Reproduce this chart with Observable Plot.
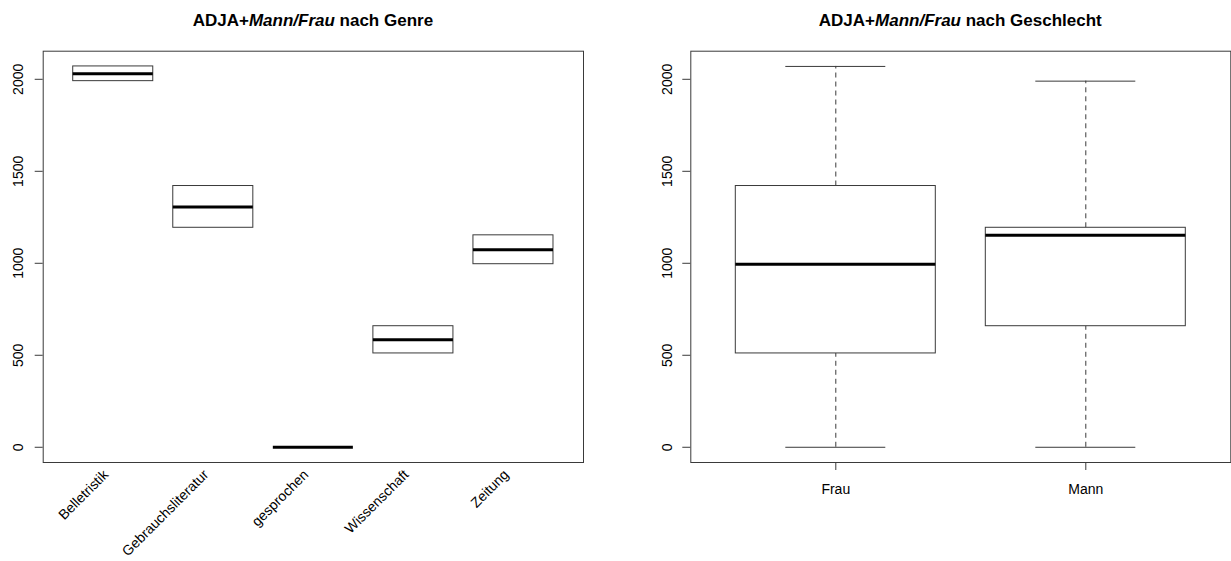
<!DOCTYPE html>
<html>
<head>
<meta charset="utf-8">
<script src="https://cdn.jsdelivr.net/npm/d3@7"></script>
<script src="https://cdn.jsdelivr.net/npm/@observablehq/plot@0.6"></script>
<style>
  html, body { margin: 0; padding: 0; background: #fff; }
  #wrap { position: relative; width: 1231px; height: 561px; overflow: hidden; font-family: "Liberation Sans", Arial, Helvetica, sans-serif; }
  .panel { position: absolute; top: 0; }
  .title { position: absolute; top: 12px; width: 600px; text-align: center; font-size: 17px; line-height: 17px; font-weight: bold; color: #000; white-space: nowrap; }
  svg { overflow: visible; }
</style>
</head>
<body>
<div id="wrap"></div>
<script>
// ---- data ----
const genres = ["Belletristik", "Gebrauchsliteratur", "gesprochen", "Wissenschaft", "Zeitung"];
const sexes = ["Frau", "Mann"];
const frauValues = [2070, 1420, 0, 510, 995];   // per genre
const mannValues = [1990, 1193, 0, 658, 1152];  // per genre
const yTicks = [0, 500, 1000, 1500, 2000];
const titleGenre = "ADJA+<i>Mann/Frau</i> nach Genre";
const titleSex = "ADJA+<i>Mann/Frau</i> nach Geschlecht";

// ---- R-style boxplot statistics (fivenum + 1.5 IQR whiskers) ----
function boxStats(vals, pos, label) {
  const x = vals.slice().sort(d3.ascending);
  const n = x.length;
  const n4 = Math.floor((n + 3) / 2) / 2;
  const d = [1, n4, (n + 1) / 2, n + 1 - n4, n];
  const f = d.map(p => 0.5 * (x[Math.floor(p) - 1] + x[Math.ceil(p) - 1]));
  const iqr = f[3] - f[1];
  const lo = d3.min(x.filter(v => v >= f[1] - 1.5 * iqr));
  const hi = d3.max(x.filter(v => v <= f[3] + 1.5 * iqr));
  return {pos, label, lo, q1: f[1], med: f[2], q3: f[3], hi};
}

const genreStats = genres.map((g, i) => boxStats([frauValues[i], mannValues[i]], i + 1, g));
const sexStats = [boxStats(frauValues, 1, sexes[0]), boxStats(mannValues, 2, sexes[1])];

const all = frauValues.concat(mannValues);
const [ymin, ymax] = d3.extent(all);
const yext = 0.04 * (ymax - ymin);
const yDomain = [ymin - yext, ymax + yext];

const LINE = "#3a3a3a";
const FONT = "Liberation Sans, Arial, Helvetica, sans-serif";

function boxMarks(stats) {
  const bw = 0.4, sw = 0.2;
  const up = stats.filter(d => d.hi > d.q3);
  const dn = stats.filter(d => d.lo < d.q1);
  return [
    Plot.ruleX(up, {x: "pos", y1: "q3", y2: "hi", stroke: LINE, strokeWidth: 1, strokeDasharray: "5,4"}),
    Plot.ruleX(dn, {x: "pos", y1: "lo", y2: "q1", stroke: LINE, strokeWidth: 1, strokeDasharray: "5,4"}),
    Plot.ruleY(up, {y: "hi", x1: d => d.pos - sw, x2: d => d.pos + sw, stroke: LINE, strokeWidth: 1}),
    Plot.ruleY(dn, {y: "lo", x1: d => d.pos - sw, x2: d => d.pos + sw, stroke: LINE, strokeWidth: 1}),
    Plot.rect(stats, {x1: d => d.pos - bw, x2: d => d.pos + bw, y1: "q1", y2: "q3", fill: "white", stroke: LINE, strokeWidth: 1}),
    Plot.ruleY(stats, {y: "med", x1: d => d.pos - bw, x2: d => d.pos + bw, stroke: "#000", strokeWidth: 3})
  ];
}

// ---- left panel: by genre ----
const nG = genres.length;
const left = Plot.plot({
  width: 615, height: 561,
  marginLeft: 42.7, marginRight: 32, marginTop: 50.7, marginBottom: 99,
  style: {fontFamily: FONT, fontSize: "14px", background: "transparent", color: "#000"},
  x: {type: "linear", domain: [0.5 - 0.04 * nG, nG + 0.5 + 0.04 * nG]},
  y: {domain: yDomain},
  marks: [
    ...boxMarks(genreStats),
    Plot.frame({stroke: LINE, strokeWidth: 1}),
    Plot.axisY({ticks: yTicks, tickSize: 8, tickRotate: -90, tickPadding: 12, fontSize: 14, stroke: LINE, fill: "#000", label: null, tickFormat: d => String(d)}),
    Plot.axisX({ticks: genreStats.map(d => d.pos), tickFormat: i => genres[i - 1], tickSize: 0, tickRotate: -45, tickPadding: 13, dx: -4, textAnchor: "end", lineAnchor: "bottom", fontSize: 14, fill: "#000", label: null})
  ]
});

// ---- right panel: by sex ----
const nS = sexes.length;
const right = Plot.plot({
  width: 616, height: 561,
  marginLeft: 75.3, marginRight: 0.7, marginTop: 50.7, marginBottom: 99,
  style: {fontFamily: FONT, fontSize: "14px", background: "transparent", color: "#000"},
  x: {type: "linear", domain: [0.5 - 0.04 * nS, nS + 0.5 + 0.04 * nS]},
  y: {domain: yDomain},
  marks: [
    ...boxMarks(sexStats),
    Plot.frame({stroke: LINE, strokeWidth: 1}),
    Plot.axisY({ticks: yTicks, tickSize: 8, tickRotate: -90, tickPadding: 10.5, fontSize: 14, stroke: LINE, fill: "#000", label: null, tickFormat: d => String(d)}),
    Plot.axisX({ticks: sexStats.map(d => d.pos), tickFormat: i => sexes[i - 1], tickSize: 8, tickPadding: 13.4, fontSize: 14, stroke: LINE, fill: "#000", label: null})
  ]
});

const wrap = document.getElementById("wrap");
const p1 = document.createElement("div"); p1.className = "panel"; p1.style.left = "0px"; p1.appendChild(left);
const p2 = document.createElement("div"); p2.className = "panel"; p2.style.left = "615px"; p2.appendChild(right);
wrap.appendChild(p1); wrap.appendChild(p2);

const t1 = document.createElement("div"); t1.className = "title"; t1.style.left = (312.9 - 300) + "px"; t1.innerHTML = titleGenre;
const t2 = document.createElement("div"); t2.className = "title"; t2.style.left = (960.3 - 300) + "px"; t2.innerHTML = titleSex;
wrap.appendChild(t1); wrap.appendChild(t2);
</script>
</body>
</html>
